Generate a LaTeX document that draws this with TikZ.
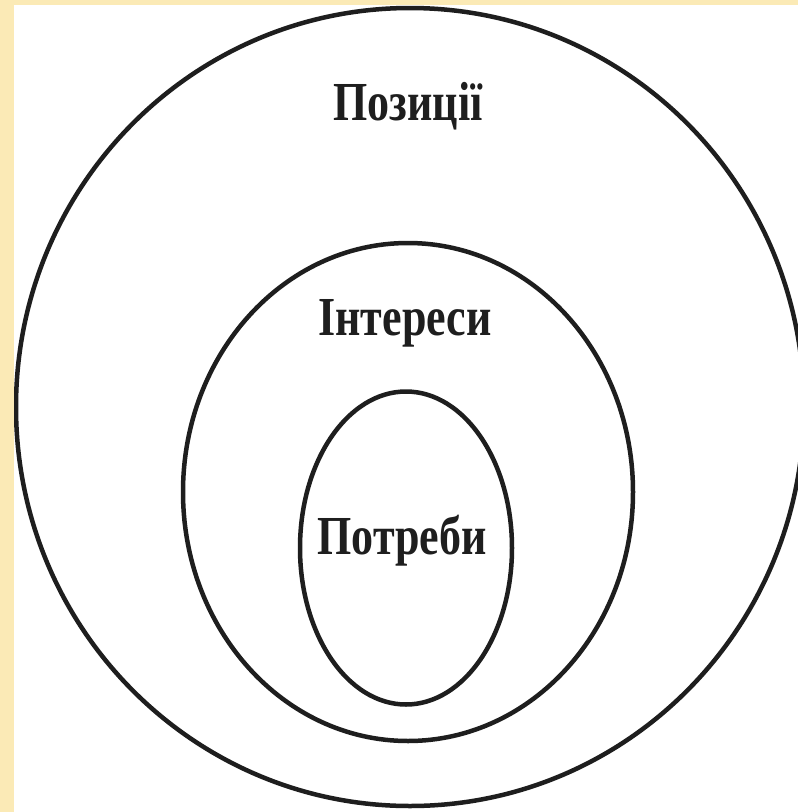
\documentclass[tikz,border=0pt]{standalone}
\usepackage{fontspec}
\setmainfont{Liberation Serif}
\usetikzlibrary{shapes.geometric}
\definecolor{bgyellow}{RGB}{251,234,182}
\definecolor{ink}{RGB}{30,30,30}
\tikzset{
  ring/.style={ellipse, draw=ink, line width=4.5pt, inner sep=0pt},
  lbl/.style={font=\bfseries\fontsize{55}{60}\selectfont, xscale=0.8, text=ink, inner sep=0pt}
}
\begin{document}
\begin{tikzpicture}[x=1pt,y=-1pt]
\useasboundingbox (0,0) rectangle (798,812);
\fill[bgyellow] (0,0) rectangle (798,812);
\fill[white] (14,5) rectangle (798,812);
\begin{scope}
\clip (14,5) rectangle (798,812);
\node[ring, minimum width=788pt, minimum height=798pt] (outer) at (410,407) {};
\end{scope}
\node[ring, minimum width=450pt, minimum height=498pt] (middle) at (408,492) {};
\node[ring, minimum width=212pt, minimum height=313pt] (inner) at (406,548) {};
\node[lbl] (pos) at (408,106) {Позиції};
\node[lbl] (int) at (405,323) {Інтереси};
\node[lbl] (potr) at (402,541) {Потреби};
\end{tikzpicture}
\end{document}
